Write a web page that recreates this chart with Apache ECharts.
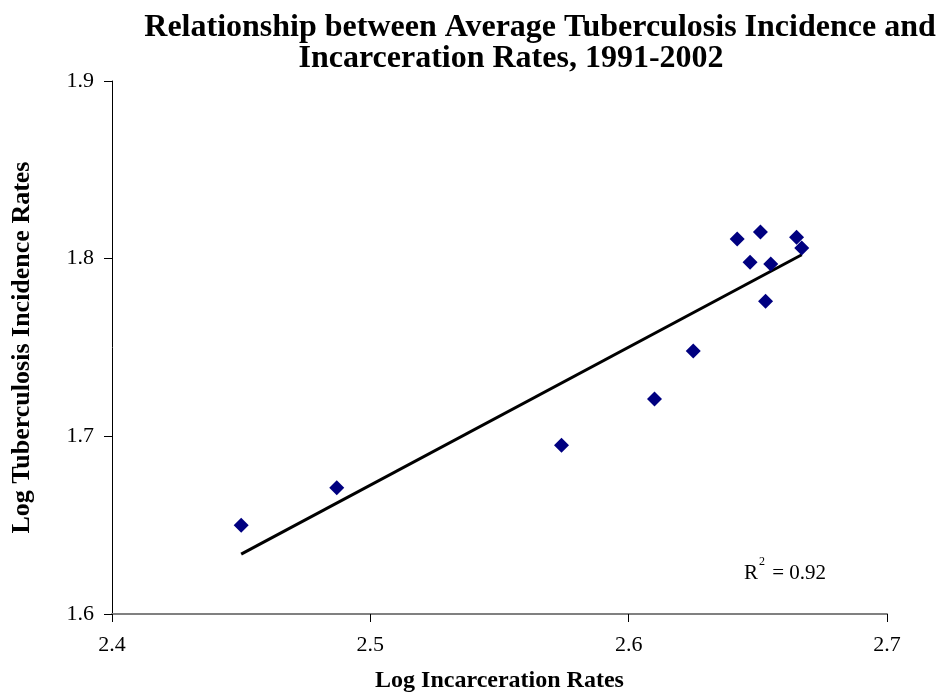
<!DOCTYPE html>
<html>
<head>
<meta charset="utf-8">
<script src="https://cdn.jsdelivr.net/npm/echarts@6/dist/echarts.min.js"></script>
<style>
  html, body { margin: 0; padding: 0; background: #fff; }
  #chart { width: 940px; height: 698px; }
</style>
</head>
<body>
<div id="chart"></div>
<script>
// Log incarceration rate (x) vs log TB incidence rate (y), averaged 1991-2002
const logIncarceration = [2.450, 2.487, 2.574, 2.610, 2.625, 2.642, 2.651, 2.647, 2.655, 2.653, 2.665, 2.667];
const logTbIncidence   = [1.650, 1.671, 1.695, 1.721, 1.748, 1.811, 1.815, 1.798, 1.797, 1.776, 1.812, 1.806];
const xTicks = [2.4, 2.5, 2.6, 2.7];
const yTicks = [1.6, 1.7, 1.8, 1.9];
const rSquaredText = '0.92';

// Least-squares linear fit through the points
const n = logIncarceration.length;
const mx = logIncarceration.reduce((a, b) => a + b, 0) / n;
const my = logTbIncidence.reduce((a, b) => a + b, 0) / n;
let sxy = 0, sxx = 0;
for (let i = 0; i < n; i++) {
  sxy += (logIncarceration[i] - mx) * (logTbIncidence[i] - my);
  sxx += (logIncarceration[i] - mx) ** 2;
}
const slope = sxy / sxx;
const intercept = my - slope * mx;
const xMin = Math.min(...logIncarceration);
const xMax = Math.max(...logIncarceration);
const fitLine = [[xMin, intercept + slope * xMin], [xMax, intercept + slope * xMax]];

const points = logIncarceration.map((x, i) => [x, logTbIncidence[i]]);
const serif = '"Liberation Serif", "Times New Roman", serif';

const chart = echarts.init(document.getElementById('chart'), null, { renderer: 'canvas' });
chart.setOption({
  backgroundColor: '#ffffff',
  animation: false,
  title: [
    {
      text: 'Relationship between Average Tuberculosis Incidence and',
      left: 535, top: 7, textAlign: 'center',
      textStyle: { fontFamily: serif, fontSize: 32, fontWeight: 'bold', color: '#000' }
    },
    {
      text: 'Incarceration Rates, 1991-2002',
      left: 506, top: 38, textAlign: 'center',
      textStyle: { fontFamily: serif, fontSize: 32, fontWeight: 'bold', color: '#000' }
    }
  ],
  grid: { left: 112, right: 53, top: 81, bottom: 81 },
  xAxis: {
    type: 'value',
    min: xTicks[0], max: xTicks[xTicks.length - 1], interval: 0.1,
    name: 'Log Incarceration Rates',
    nameLocation: 'middle', nameGap: 55,
    nameTextStyle: { fontFamily: serif, fontSize: 24, fontWeight: 'bold', color: '#000' },
    axisLine: { lineStyle: { color: '#808080', width: 2 } },
    axisTick: { show: true, length: 8, lineStyle: { color: '#000', width: 1 } },
    axisLabel: { fontFamily: serif, fontSize: 22, color: '#000', margin: 20,
                 formatter: v => v.toFixed(1) },
    splitLine: { show: false }
  },
  yAxis: {
    type: 'value',
    min: yTicks[0], max: yTicks[yTicks.length - 1], interval: 0.1,
    name: 'Log Tuberculosis Incidence Rates',
    nameLocation: 'middle', nameGap: 77,
    nameTextStyle: { fontFamily: serif, fontSize: 26, fontWeight: 'bold', color: '#000' },
    axisLine: { lineStyle: { color: '#000', width: 1 } },
    axisTick: { show: true, length: 8, lineStyle: { color: '#000', width: 1 } },
    axisLabel: { fontFamily: serif, fontSize: 22, color: '#000', margin: 18,
                 formatter: v => v.toFixed(1) },
    splitLine: { show: false }
  },
  series: [
    {
      type: 'line',
      data: fitLine,
      symbol: 'none',
      lineStyle: { color: '#000', width: 3 },
      z: 2
    },
    {
      type: 'scatter',
      data: points,
      symbol: 'diamond',
      symbolSize: 15,
      itemStyle: { color: '#000080', opacity: 1 },
      z: 3
    }
  ],
  graphic: [
    {
      type: 'text',
      left: 744, top: 556,
      style: {
        text: '{r|R}{sup|2}{r| = ' + rSquaredText + '}',
        rich: {
          r: { fontFamily: serif, fontSize: 21, color: '#000', verticalAlign: 'bottom', lineHeight: 28 },
          sup: { fontFamily: serif, fontSize: 12, color: '#000', verticalAlign: 'top', padding: [0, 2, 12, 1] }
        }
      }
    }
  ]
});
</script>
</body>
</html>
